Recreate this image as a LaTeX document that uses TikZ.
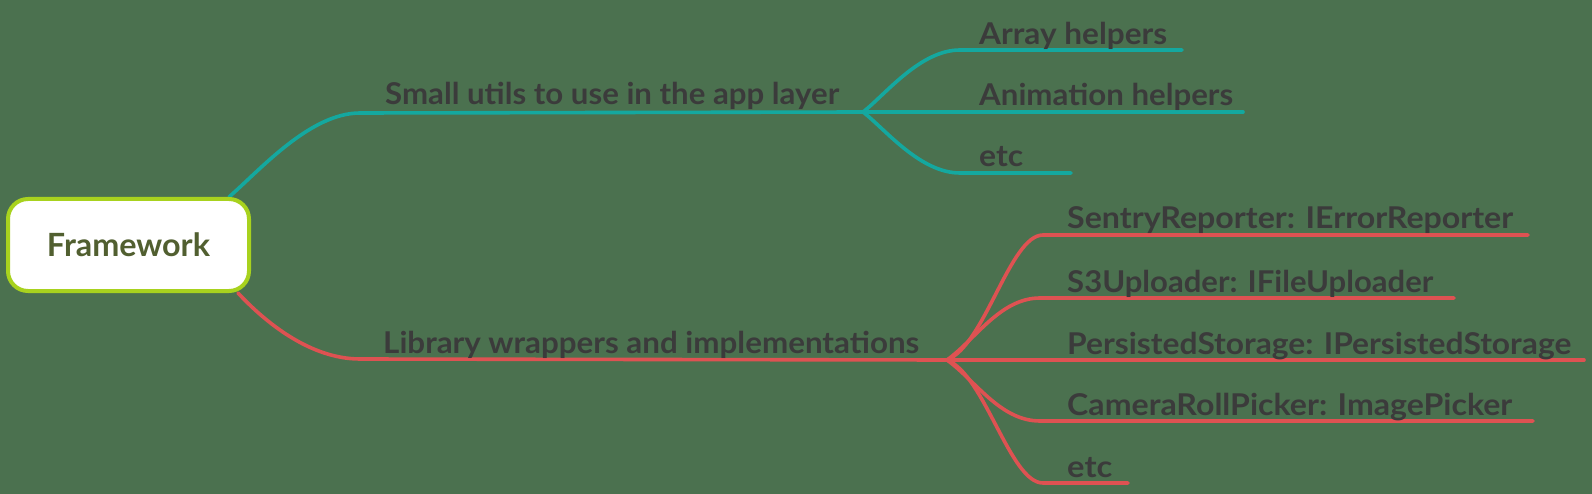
\documentclass[tikz,border=0pt]{standalone}
\usepackage{fontspec}
\setmainfont{Lato}
\usepackage{graphicx}
\definecolor{bg}{HTML}{4B714F}
\definecolor{tealc}{HTML}{14A89F}
\definecolor{redc}{HTML}{DE5252}
\definecolor{txt}{HTML}{3B3B3B}
\definecolor{lime}{HTML}{A8D21E}
\definecolor{olive}{HTML}{515F30}
\newcommand\fitlbl[2]{\resizebox{#1pt}{\height}{#2}}
\tikzset{
  br/.style={line width=3.6pt, line cap=round},
  tealbr/.style={br, draw=tealc},
  redbr/.style={br, draw=redc},
  lbl/.style={anchor=base west, inner sep=0pt, text=txt, font=\fontsize{30}{30}\selectfont\bfseries},
}
\begin{document}
\begin{tikzpicture}[x=1pt,y=-1pt]
\useasboundingbox (0,0) rectangle (1592,494);
\fill[bg] (0,0) rectangle (1592,494);

% coordinates
\coordinate (ts) at (229,197);
\coordinate (tm) at (360,113);
\coordinate (tb) at (863,112);
\coordinate (t1) at (960,50);
\coordinate (t1e) at (1182,50);
\coordinate (t2e) at (1243,112);
\coordinate (t3) at (960,173);
\coordinate (t3e) at (1071,173);

\coordinate (rs) at (238,293);
\coordinate (rm) at (360,359);
\coordinate (rb) at (947,360);
\coordinate (r1) at (1043,235);
\coordinate (r1e) at (1528,235);
\coordinate (r2) at (1040,298);
\coordinate (r2e) at (1454,298);
\coordinate (r3e) at (1584,360);
\coordinate (r4) at (1040,421);
\coordinate (r4e) at (1533,421);
\coordinate (r5) at (1043,483);
\coordinate (r5e) at (1128,483);

% teal branches
\draw[tealbr] (ts) .. controls (260,170) and (310,113) .. (tm) -- (tb);
\draw[tealbr] (tb) -- (t2e);
\draw[tealbr] (tb) .. controls (885,95) and (920,50) .. (t1) -- (t1e);
\draw[tealbr] (tb) .. controls (885,129) and (920,173) .. (t3) -- (t3e);

% red branches
\draw[redbr] (rs) .. controls (265,322) and (310,359) .. (rm) -- (rb);
\draw[redbr] (rb) -- (r3e);
\draw[redbr] (rb) .. controls (985,345) and (1010,235) .. (r1) -- (r1e);
\draw[redbr] (rb) .. controls (975,340) and (1000,298) .. (r2) -- (r2e);
\draw[redbr] (rb) .. controls (975,380) and (1000,421) .. (r4) -- (r4e);
\draw[redbr] (rb) .. controls (985,375) and (1010,483) .. (r5) -- (r5e);

% root
\node[draw=lime, line width=4pt, fill=white, rounded corners=20pt,
      minimum width=241pt, minimum height=92pt, inner sep=0pt,
      text=olive, font=\fontsize{32}{32}\selectfont\bfseries]
      (root) at (128.5,245) {\fitlbl{163}{Framework}};

% labels
\node[lbl] (small) at (385,105) {\fitlbl{454}{Small utils to use in the app layer}};
\node[lbl] (lib) at (383,353) {\fitlbl{536}{Library wrappers and implementations}};
\node[lbl] (arr) at (979,45) {\fitlbl{188}{Array helpers}};
\node[lbl] (anim) at (979,106) {\fitlbl{254}{Animation helpers}};
\node[lbl] (tetc) at (979,167) {\fitlbl{44}{etc}};
\node[lbl] (sentry) at (1067,229) {\fitlbl{446}{SentryReporter: IErrorReporter}};
\node[lbl] (s3) at (1067,292) {\fitlbl{366}{S3Uploader: IFileUploader}};
\node[lbl] (pers) at (1067,354) {\fitlbl{504}{PersistedStorage: IPersistedStorage}};
\node[lbl] (cam) at (1067,415) {\fitlbl{445}{CameraRollPicker: ImagePicker}};
\node[lbl] (retc) at (1067,477) {\fitlbl{45}{etc}};
\end{tikzpicture}
\end{document}
